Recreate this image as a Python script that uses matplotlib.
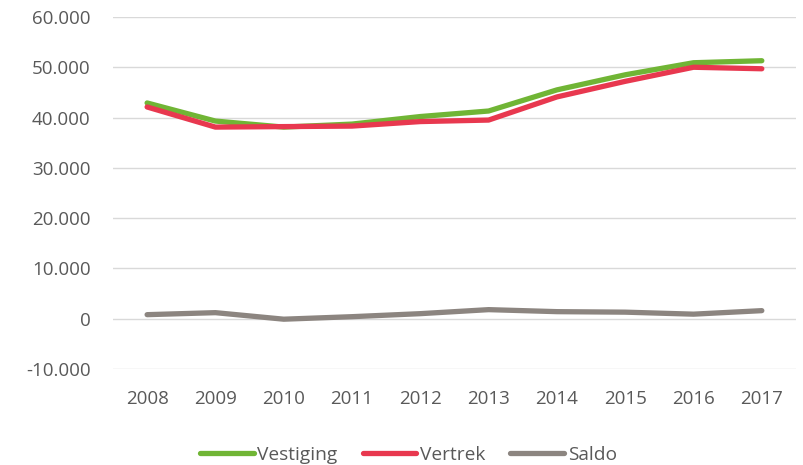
import matplotlib.pyplot as plt
from matplotlib.ticker import FuncFormatter

years = ["2008", "2009", "2010", "2011", "2012", "2013", "2014", "2015", "2016", "2017"]
vestiging = [42900, 39300, 38100, 38700, 40200, 41300, 45500, 48500, 50900, 51300]
vertrek = [42100, 38100, 38200, 38300, 39200, 39500, 44100, 47200, 50000, 49700]
saldo = [800, 1200, -100, 400, 1000, 1800, 1400, 1300, 900, 1600]

plt.rcParams["font.family"] = ["Open Sans", "DejaVu Sans"]

fig = plt.figure(figsize=(8.04, 4.65), dpi=100)
ax = fig.add_axes([0.1405, 0.2065, 0.8495, 0.757])

x = range(len(years))
ax.plot(x, vestiging, color="#70B535", lw=3.8, label="Vestiging", solid_capstyle="round")
ax.plot(x, vertrek, color="#E8384F", lw=3.8, label="Vertrek", solid_capstyle="round")
ax.plot(x, saldo, color="#8C8580", lw=3.8, label="Saldo", solid_capstyle="round")

ax.set_xlim(-0.5, len(years) - 0.5)
ax.set_ylim(-10000, 60000)
ax.set_yticks(range(-10000, 60001, 10000))
ax.yaxis.set_major_formatter(FuncFormatter(lambda v, p: f"{int(v):,}".replace(",", ".")))
ax.set_xticks(list(x))
ax.set_xticklabels(years)

ax.grid(axis="y", color="#D9D9D9", lw=1)
ax.set_axisbelow(True)
for s in ax.spines.values():
    s.set_visible(False)
ax.tick_params(length=0, labelsize=13.5, colors="#595959")
ax.tick_params(axis="y", pad=16)
ax.tick_params(axis="x", pad=15)

fig.legend(loc="lower center", bbox_to_anchor=(0.508, -0.035), ncol=3, frameon=False,
           fontsize=13.8, handlelength=2.8, handletextpad=0.2, columnspacing=1.3,
           labelcolor="#595959")

fig.savefig("out.png", dpi=100)
